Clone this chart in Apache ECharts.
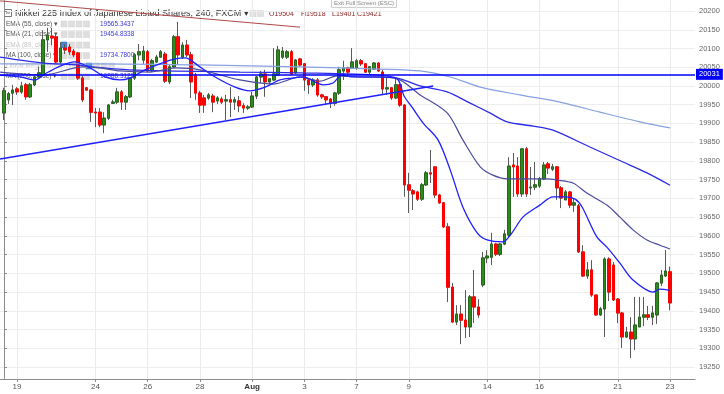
<!DOCTYPE html>
<html><head><meta charset="utf-8">
<script src="https://cdn.jsdelivr.net/npm/echarts@6/dist/echarts.min.js"></script>
<style>html,body{margin:0;padding:0;background:#fff}#c{width:724px;height:394px}</style>
</head><body><div id="c"></div>
<script>
// [open, close, low, high] per 4h candle, index 0 = last 3 candles of Jul 18
const candles = [
[19928,19987,19909,19995],[19963,19979,19952,19984],[19981,19989,19949,20003],[19992,19984,19976,19997],
[19984,20000,19979,20011],[20003,19971,19963,20008],[19971,20003,19968,20008],[20003,20024,20000,20027],
[20024,20035,20021,20051],[20029,20123,20027,20149],[20123,20136,20091,20155],[20133,20128,20109,20155],
[20131,20064,20059,20136],[20064,20101,20059,20117],[20101,20096,20085,20112],[20104,20091,20083,20112],
[20093,20083,20077,20099],[20088,20021,20016,20091],[20021,19963,19957,20027],[19995,19989,19987,19997],
[19989,19930,19904,19992],[19930,19928,19890,19941],[19930,19896,19890,19941],[19896,19914,19874,19930],
[19914,19949,19909,19952],[19954,19957,19952,19963],[19957,19984,19952,19995],[19984,19957,19936,19989],
[19957,19971,19936,19976],[19971,20021,19968,20024],[20021,20083,20016,20088],[20083,20091,20069,20112],
[20069,20093,20059,20107],[20091,20040,20037,20096],[20040,20067,20037,20072],[20064,20077,20061,20083],
[20077,20091,20075,20096],[20085,20013,20008,20091],[20011,20051,20005,20056],[20051,20131,20048,20136],
[20131,20083,20056,20171],[20077,20109,20072,20117],[20109,20083,20077,20123],[20083,20011,19968,20091],
[20029,19981,19963,20035],[19981,19949,19928,19987],[19968,19949,19928,19976],[19968,19976,19963,19981],
[19973,19957,19930,19979],[19960,19968,19952,19973],[19965,19957,19952,19971],[19960,19963,19909,19976],
[19963,19957,19917,19997],[19957,19963,19936,19971],[19960,19947,19930,19973],[19947,19941,19928,19954],
[19941,19944,19936,19949],[19944,19973,19941,19984],[19973,20024,19965,20027],[20024,20032,20008,20040],
[20032,20011,19971,20043],[20011,20019,20005,20021],[20016,20032,20013,20101],[20029,20096,20027,20107],
[20077,20093,20072,20104],[20077,20091,20072,20096],[20091,20032,20029,20096],[20035,20069,20032,20072],
[20072,20056,20051,20075],[20059,20016,19987,20061],[20016,20003,19979,20019],[20003,20016,19997,20021],
[20016,19976,19971,20021],[19976,19971,19965,19979],[19971,19963,19949,19973],[19965,19954,19941,19968],
[19954,19981,19947,19984],[19981,20043,19976,20051],[20040,20048,20016,20067],[20048,20037,20032,20051],
[20048,20064,20045,20101],[20048,20067,20043,20072],[20067,20059,20053,20072],[20059,20037,20035,20061],
[20037,20051,20032,20053],[20045,20061,20043,20064],[20061,20040,20037,20064],[20037,19992,19976,20043],
[19992,19995,19976,20021],[19995,19968,19963,19997],[19968,20003,19965,20021],[20003,19949,19944,20005],
[19949,19736,19704,19952],[19736,19722,19661,19768],[19720,19712,19669,19725],[19717,19698,19693,19720],
[19698,19736,19693,19741],[19736,19768,19733,19773],[19768,19765,19741,19829],[19784,19709,19701,19784],
[19709,19688,19685,19712],[19688,19624,19621,19690],[19624,19463,19423,19634],[19463,19370,19367,19474],
[19370,19391,19362,19415],[19391,19375,19311,19415],[19375,19357,19327,19455],[19357,19437,19330,19442],
[19437,19410,19367,19509],[19410,19389,19381,19431],[19469,19541,19463,19557],[19541,19546,19527,19562],
[19543,19578,19522,19608],[19578,19551,19546,19581],[19551,19578,19546,19581],[19578,19605,19575,19616],
[19602,19786,19597,19810],[19789,19784,19704,19821],[19786,19712,19704,19810],[19712,19832,19704,19832],
[19832,19712,19704,19837],[19728,19730,19709,19784],[19730,19736,19722,19797],[19733,19752,19728,19757],
[19752,19789,19749,19797],[19792,19781,19765,19797],[19778,19784,19773,19792],[19784,19728,19696,19786],
[19728,19701,19674,19733],[19696,19717,19696,19722],[19717,19682,19674,19720],[19682,19688,19664,19701],
[19680,19557,19554,19685],[19557,19493,19490,19575],[19493,19509,19485,19530],[19509,19442,19437,19535],
[19442,19389,19386,19442],[19389,19405,19386,19410],[19405,19538,19330,19543],[19538,19450,19426,19543],
[19522,19429,19426,19530],[19431,19394,19367,19434],[19394,19330,19301,19397],[19330,19343,19327,19357],
[19343,19325,19274,19383],[19325,19362,19295,19437],[19357,19383,19357,19437],[19383,19389,19359,19437],
[19389,19383,19375,19413],[19383,19394,19362,19413],[19389,19474,19365,19477],[19474,19495,19466,19509],
[19493,19506,19490,19562],[19504,19421,19401,19518]
];
const dayLabelIdx = [3,21,33,45,57,69,81,93,111,123,141,153];
const dayLabels = ['19','24','26','28','Aug','3','7','9','14','16','21','23'];
const yTicks = [19250,19300,19350,19400,19450,19500,19550,19600,19650,19700,19750,19800,19850,19900,19950,20000,20050,20100,20150,20200];
// indicator lines read at [candle index, value]
const ema21 = [[-0.9,20029],[3.7,20024],[7.1,20016],[9.4,20032],[12.9,20053],[16.3,20064],[19.8,20048],[23.2,20024],[26.6,20016],[28.9,20021],[32.4,20043],[35.8,20059],[39.3,20072],[41.6,20075],[45,20051],[48.5,20024],[53.1,19997],[56.5,19987],[60,19997],[63.4,20016],[66.2,20021],[68.7,20024],[73.3,20003],[75.6,20008],[77.6,20029],[79.9,20024],[86.4,20024],[90.3,20019],[91.9,19973],[93.7,19944],[96.3,19901],[99.7,19856],[102.5,19776],[105.4,19677],[108.7,19608],[111,19589],[114.6,19584],[116.7,19608],[119.2,19650],[123.1,19682],[126.1,19704],[128.9,19704],[131.2,19698],[132.8,19677],[136.2,19597],[138.5,19570],[141.5,19527],[144.5,19482],[149.1,19450],[150.7,19458],[153,19455]];
const ema55 = [[-0.9,20037],[9,20029],[18.1,20051],[22.1,20048],[26.6,20040],[33.5,20037],[39.3,20048],[45,20043],[54.2,20016],[61.8,20005],[68,20024],[72.6,20013],[76.5,20027],[81.1,20024],[89.8,20021],[95.6,19976],[101.8,19928],[105.4,19856],[109.4,19784],[112.3,19762],[115.6,19752],[124.7,19752],[127,19749],[130.7,19741],[133.9,19714],[138.5,19682],[141.5,19650],[144.5,19616],[147.7,19589],[150.7,19575],[153,19565]];
const ma100 = [[-0.9,20077],[9,20061],[16.8,20056],[19.8,20051],[28.9,20043],[54.2,20037],[68,20035],[86.4,20029],[91,20019],[95.6,20000],[101.8,19984],[107.1,19954],[111.6,19928],[115.6,19904],[121.5,19893],[126.1,19882],[134.6,19837],[142.2,19797],[147.7,19768],[153,19735]];
const ma200 = [[-0.9,20059],[22,20059],[45,20056],[68,20051],[86.4,20045],[95.6,20040],[102.5,20024],[109.4,19997],[118.5,19976],[127.7,19957],[136.9,19930],[146.1,19904],[153,19888]];
const trendLine = [[-0.9,19805],[98.6,20000]];
const redLine = [[-0.9,20227],[68,20157]];
const hLevel = 20031;
const lastClose = 19421;
const ohlcText = ['O19504','H19518','L19401','C19421'];
const legendNames = ['EMA (55, close)','EMA (21, close)','EMA (89, close)','MA (100, close)','Linear Regression (100)','MA (200, close)'];
const legendValues = ['19565.3437','19454.8338','','19734.7800','','19888.3125'];
const legendOn = [true,true,false,true,false,true];

const chart = echarts.init(document.getElementById('c'), null, {renderer:'canvas'});
const GREEN = '#2f8a1d', RED = '#ff0000';
const FONT = '"Liberation Sans", Arial, sans-serif';
const graphics = [];
// title
graphics.push({type:'rect', shape:{x:4.5,y:9.5,width:7,height:7}, style:{fill:'#fff', stroke:'#777', lineWidth:1}});
graphics.push({type:'line', shape:{x1:6,y1:13,x2:10,y2:13}, style:{stroke:'#777', lineWidth:1}});
graphics.push({type:'text', x:15, y:13.5, style:{text:'Nikkei 225 Index of Japanese Listed Shares, 240, FXCM \u25BE', font:'9px ' + FONT, fill:'#333', verticalAlign:'middle'}});
const rowY = [24,34.5,45,55.5,66,76.5];
legendNames.forEach((n,k)=>{
  const y = rowY[k];
  graphics.push({type:'text', x:6, y:y, style:{text:n + (legendOn[k] ? ' \u25BE' : ''), font:'6.5px ' + FONT, fill: legendOn[k] ? '#555' : '#c4c4c4', verticalAlign:'middle'}});
  const x0 = (k===4) ? 86 : 61;
  for (let j=0;j<4;j++) {
    const hi = (k===2 && j===0) || (k===4 && j===0);
    graphics.push({type:'rect', shape:{x:x0+j*7.5,y:y-3,width:6,height:6}, style:{fill: hi ? '#4a86d8' : '#dedede', stroke: hi ? '#2e64b5' : '#d0d0d0', lineWidth:0.5}});
  }
  if (legendValues[k]) graphics.push({type:'text', x:100, y:y, style:{text:legendValues[k], font:'6.5px ' + FONT, fill:'#3a3ad6', verticalAlign:'middle'}});
});
// OHLC
const ohlcX = [269,301,332,357];
ohlcText.forEach((t,k)=>graphics.push({type:'text', x:ohlcX[k], y:14, style:{text:t, font:'7px ' + FONT, fill:'#8b1c1c', verticalAlign:'middle'}}));
graphics.push({type:'rect', shape:{x:250,y:10.5,width:6,height:6}, style:{fill:'#e2e2e2', stroke:'#ccc', lineWidth:0.5}});
graphics.push({type:'rect', shape:{x:257.5,y:10.5,width:6,height:6}, style:{fill:'#e2e2e2', stroke:'#ccc', lineWidth:0.5}});
// exit tooltip
graphics.push({type:'rect', shape:{x:331.5,y:-3,width:65,height:10.5}, style:{fill:'#fafafa', stroke:'#cfcfcf', lineWidth:1}});
graphics.push({type:'text', x:364, y:3, style:{text:'Exit Full Screen (ESC)', font:'6px ' + FONT, fill:'#8a8a8a', align:'center', verticalAlign:'middle'}});

function lineSeries(data, color, width, smooth) {
  return {type:'line', data:data, showSymbol:false, smooth:smooth, silent:true, animation:false,
    lineStyle:{color:color, width:width}, z:3};
}

const option = {
  backgroundColor:'#ffffff',
  animation:false,
  grid:{left:0, top:0, right:29, bottom:15, containLabel:false},
  xAxis:{type:'value', min:-0.92, max:158.74,
    axisLine:{show:true, lineStyle:{color:'#8c8c8c'}},
    axisTick:{show:true, customValues:dayLabelIdx, length:3, lineStyle:{color:'#8c8c8c'}},
    axisLabel:{show:true, customValues:dayLabelIdx, fontSize:8, color:'#555', margin:4, fontFamily:FONT,
      formatter:(v)=>{ const k = dayLabelIdx.indexOf(Math.round(v)); const t = dayLabels[k]; return t==='Aug' ? '{b|Aug}' : t; },
      rich:{b:{fontWeight:'bold', fontSize:8, color:'#333'}}},
    splitLine:{show:true, lineStyle:{color:'#ebebeb', width:1}}},
  yAxis:{type:'value', position:'right', min:19217.9, max:20229.4, scale:true,
    axisLine:{show:true, lineStyle:{color:'#8c8c8c'}},
    axisTick:{show:true, customValues:yTicks, length:3, lineStyle:{color:'#8c8c8c'}},
    axisLabel:{show:true, customValues:yTicks, fontSize:7.5, color:'#666', margin:4, fontFamily:FONT,
      formatter:(v)=>String(Math.round(v))},
    splitLine:{show:true, lineStyle:{color:'#ededed', width:1}}},
  graphic:graphics,
  series:[
    {type:'candlestick', name:'wick', data:candles.map((c,i)=>[i,c[0],c[1],c[2],c[3]]), encode:{x:0,y:[1,2,3,4]},
      barWidth:3, silent:true, animation:false, z:2,
      itemStyle:{color:GREEN, color0:RED, borderColor:'#5a5a5a', borderColor0:'#5a5a5a', borderWidth:1}},
    {type:'candlestick', name:'body', data:candles.map((c,i)=>[i,c[0],c[1],Math.min(c[0],c[1]),Math.max(c[0],c[1])]), encode:{x:0,y:[1,2,3,4]},
      barWidth:3, silent:true, animation:false, z:2,
      itemStyle:{color:GREEN, color0:RED, borderColor:'#25661a', borderColor0:RED, borderWidth:1}},
    lineSeries(ma200, '#86a0e2', 1.2, 0.3),
    lineSeries(ma100, '#2b2be6', 1.3, 0.3),
    lineSeries(ema55, '#4a4a9e', 1.2, 0.3),
    lineSeries(ema21, '#1f1fff', 1.3, 0.3),
    lineSeries(trendLine, '#1f1fff', 1.5, false),
    lineSeries(redLine, '#b04848', 1, false),
    {type:'line', data:[], silent:true, animation:false, z:4,
      markLine:{symbol:'none', silent:true, animation:false,
        data:[
          {yAxis:hLevel, lineStyle:{color:'#0000ff', width:1.5, type:'solid'},
            label:{show:true, position:'end', formatter:String(hLevel), backgroundColor:'#0000ff', color:'#fff', fontSize:7.5, padding:[2,3,1,3], distance:1}},
          {yAxis:lastClose, lineStyle:{color:'#ff0000', width:0, opacity:0},
            label:{show:true, position:'end', formatter:String(lastClose), backgroundColor:'#ff0000', color:'#fff', fontSize:7.5, padding:[2,3,1,3], distance:1}}
        ]}}
  ]
};
chart.setOption(option);
</script></body></html>
